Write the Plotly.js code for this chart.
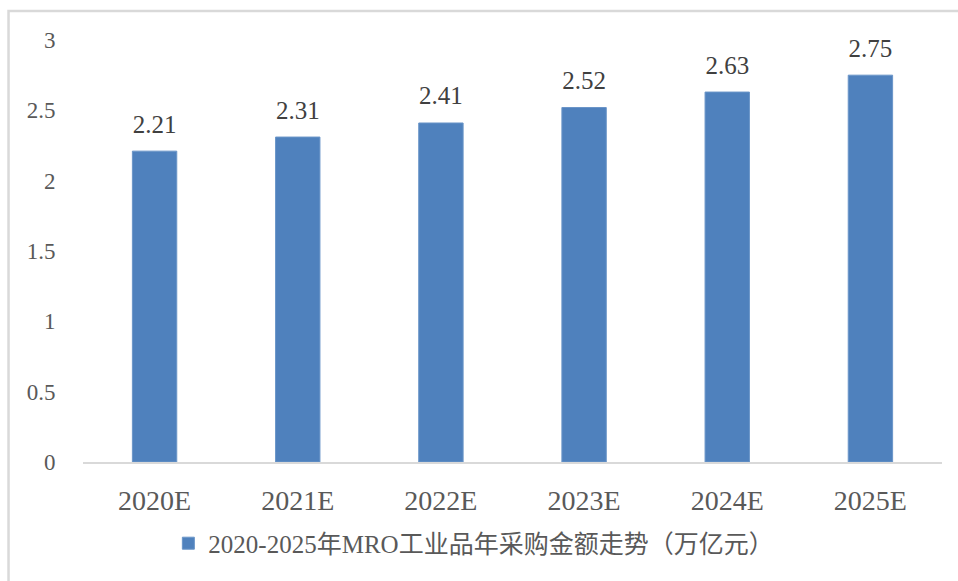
<!DOCTYPE html>
<html>
<head>
<meta charset="utf-8">
<script src="https://cdn.plot.ly/plotly-3.0.1.min.js"></script>
<style>html,body{margin:0;padding:0;background:#fff;}#chart{width:958px;height:581px;}</style>
</head>
<body>
<div id="chart"></div>
<script>
const categories = ["2020E", "2021E", "2022E", "2023E", "2024E", "2025E"];
const values = [2.21, 2.31, 2.41, 2.52, 2.63, 2.75];
const valueLabels = ["2.21", "2.31", "2.41", "2.52", "2.63", "2.75"];
const seriesName = "2020-2025年MRO工业品年采购金额走势（万亿元）";
const yTickVals = [0, 0.5, 1, 1.5, 2, 2.5, 3];
const yTickText = ["0", "0.5", "1", "1.5", "2", "2.5", "3"];

const serif = 'Liberation Serif, Times New Roman, Noto Sans CJK SC, serif';

const trace = {
  type: 'bar',
  x: categories,
  y: values,
  name: seriesName,
  marker: {color: '#4F81BD', line: {color: '#6a95c8', width: 1}},
  hoverinfo: 'none'
};

const labels = {
  type: 'scatter',
  mode: 'markers+text',
  x: categories,
  y: values,
  text: valueLabels,
  textposition: 'top center',
  marker: {size: 18, color: 'rgba(0,0,0,0)'},
  textfont: {family: serif, size: 25, color: '#404040'},
  showlegend: false,
  hoverinfo: 'none',
  cliponaxis: false
};

const layout = {
  width: 958, height: 581,
  margin: {l: 82.5, r: 16, t: 40, b: 119},
  paper_bgcolor: '#ffffff', plot_bgcolor: '#ffffff',
  font: {family: serif},
  bargap: 0.69,
  showlegend: true,
  legend: {
    orientation: 'h', x: 0.455, xanchor: 'center', y: -0.193, yanchor: 'middle',
    font: {family: serif, size: 25, color: '#595959'},
    itemwidth: 30
  },
  xaxis: {
    type: 'category',
    showline: true, linecolor: '#d9d9d9', linewidth: 2,
    showgrid: false, zeroline: false,
    ticks: 'outside', ticklen: 12, tickcolor: 'rgba(0,0,0,0)',
    tickfont: {family: serif, size: 28, color: '#595959'}
  },
  yaxis: {
    range: [0, 3],
    tickvals: yTickVals, ticktext: yTickText,
    showline: false, showgrid: false, zeroline: false,
    ticks: 'outside', ticklen: 22, tickcolor: 'rgba(0,0,0,0)',
    tickfont: {family: serif, size: 23, color: '#595959'}
  },
  shapes: [
    {type: 'path', xref: 'paper', yref: 'paper',
     path: 'M -0.0867,-0.4 L -0.0867,1.0687 L 1.2,1.0687',
     line: {color: '#d9d9d9', width: 2.5}}
  ]
};

Plotly.newPlot('chart', [trace, labels], layout, {displayModeBar: false, staticPlot: true});
</script>
</body>
</html>
